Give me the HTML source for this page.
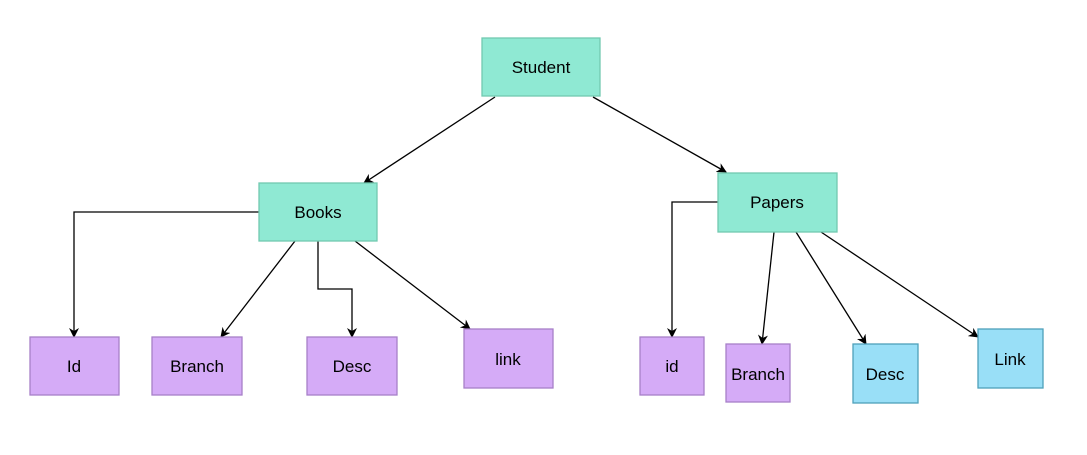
<!DOCTYPE html>
<html><head><style>
body{margin:0;background:#fff;width:1087px;height:450px;overflow:hidden}
</style></head><body>
<svg width="1087" height="450" xmlns="http://www.w3.org/2000/svg" font-family="Liberation Sans, Arial, sans-serif" font-size="17">
<defs><marker id="a" markerWidth="10" markerHeight="10" refX="9" refY="5" orient="auto" markerUnits="userSpaceOnUse"><path d="M0,0 L10,5 L0,10 L3,5 z" fill="#000"/></marker></defs>
<g stroke="#000" stroke-width="1.3" fill="none" marker-end="url(#a)">
<path d="M495,97 L364,183"/>
<path d="M593,97 L726,172"/>
<path d="M259,212 L74,212 L74,337"/>
<path d="M295,241 L221,337"/>
<path d="M318,241 L318,289 L352,289 L352,337"/>
<path d="M355,241 L470,329"/>
<path d="M718,202 L672,202 L672,337"/>
<path d="M774,232 L762,344"/>
<path d="M796,232 L866,344"/>
<path d="M821,232 L978,337"/>
</g>
<g stroke-width="1.3">
<rect x="482" y="38" width="118" height="58" fill="#8fe9d3" stroke="#72c9b0"/>
<rect x="259" y="183" width="118" height="58" fill="#8fe9d3" stroke="#72c9b0"/>
<rect x="718" y="173" width="119" height="59" fill="#8fe9d3" stroke="#72c9b0"/>
<rect x="30" y="337" width="89" height="58" fill="#d5abf7" stroke="#a780c8"/>
<rect x="152" y="337" width="90" height="58" fill="#d5abf7" stroke="#a780c8"/>
<rect x="307" y="337" width="90" height="58" fill="#d5abf7" stroke="#a780c8"/>
<rect x="464" y="329" width="89" height="59" fill="#d5abf7" stroke="#a780c8"/>
<rect x="640" y="337" width="64" height="58" fill="#d5abf7" stroke="#a780c8"/>
<rect x="726" y="344" width="64" height="58" fill="#d5abf7" stroke="#a780c8"/>
<rect x="853" y="344" width="65" height="59" fill="#99dff7" stroke="#4fa0ba"/>
<rect x="978" y="329" width="65" height="59" fill="#99dff7" stroke="#4fa0ba"/>
</g>
<g text-anchor="middle" fill="#000">
<text x="541" y="73">Student</text>
<text x="318" y="218">Books</text>
<text x="777" y="208">Papers</text>
<text x="74" y="372">Id</text>
<text x="197" y="372">Branch</text>
<text x="352" y="372">Desc</text>
<text x="508" y="365">link</text>
<text x="672" y="372">id</text>
<text x="758" y="380">Branch</text>
<text x="885" y="380">Desc</text>
<text x="1010" y="365">Link</text>
</g>
</svg>
</body></html>
